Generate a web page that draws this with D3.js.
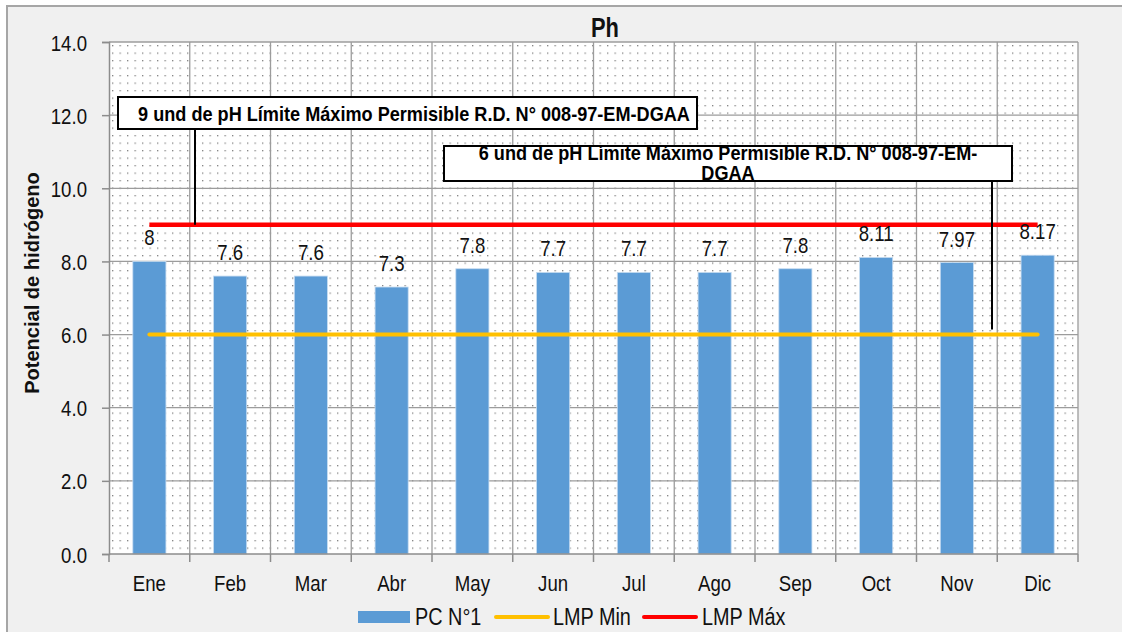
<!DOCTYPE html>
<html>
<head>
<meta charset="utf-8">
<script src="https://cdn.jsdelivr.net/npm/d3@7"></script>
<style>
  html, body { margin: 0; padding: 0; background: #ffffff; }
  svg { display: block; }
  text { font-family: "Liberation Sans", Arial, sans-serif; }
</style>
</head>
<body>
<svg id="chart" width="1122" height="632"></svg>
<script>
// Monthly pH readings at monitoring point PC N°1
const months = ["Ene", "Feb", "Mar", "Abr", "May", "Jun", "Jul", "Ago", "Sep", "Oct", "Nov", "Dic"];
const pcValues = [8, 7.6, 7.6, 7.3, 7.8, 7.7, 7.7, 7.7, 7.8, 8.11, 7.97, 8.17];
const lmpMin = [6, 6, 6, 6, 6, 6, 6, 6, 6, 6, 6, 6];
const lmpMax = [9, 9, 9, 9, 9, 9, 9, 9, 9, 9, 9, 9];
const yTicks = [0, 2, 4, 6, 8, 10, 12, 14];
const seriesNames = ["PC N°1", "LMP Min", "LMP Máx"];
const noteMax = "9 und de pH Límite Máximo Permisible R.D. N° 008-97-EM-DGAA";
const noteMinLines = ["6 und de pH Límite Máximo Permisible R.D. N° 008-97-EM-", "DGAA"];

const colors = { bar: "#5b9bd5", min: "#ffc000", max: "#ff0000", grid: "#9c9c9c", axis: "#8c8c8c", text: "#111" };
const NARROW = 0.81; // horizontal squeeze that gives the condensed look of the labels

const svg = d3.select("#chart");
const plot = { left: 109, right: 1078, top: 42, bottom: 554 };

// condensed text: regular glyphs squeezed horizontally around the anchor point
function ntext(parent, x, y, str, size, sx, bold) {
  return parent.append("text")
    .attr("transform", `translate(${x},${y}) scale(${sx},1)`)
    .attr("font-size", size)
    .attr("font-weight", bold ? "bold" : "normal")
    .attr("fill", colors.text)
    .text(str);
}
// squeeze a text so that it spans a given width
function fitWidth(t, width) {
  const w = t.node().getComputedTextLength();
  const tr = t.attr("transform").replace(/scale\([^)]*\)/, `scale(${width / w},1)`);
  t.attr("transform", tr);
  return width / w;
}

// chart area
svg.append("rect")
  .attr("x", 7).attr("y", 6).attr("width", 1130).attr("height", 640)
  .attr("fill", "#f0f0f0").attr("stroke", "#a6a6a6").attr("stroke-width", 2);

// dotted fill for the plot area
const defs = svg.append("defs");
const pat = defs.append("pattern")
  .attr("id", "dots").attr("patternUnits", "userSpaceOnUse")
  .attr("width", 7.5).attr("height", 7.5)
  .attr("x", plot.left + 3).attr("y", plot.top + 3);
pat.append("rect").attr("width", 7.5).attr("height", 7.5).attr("fill", "#ffffff");
pat.append("rect").attr("x", 0).attr("y", 0).attr("width", 1.3).attr("height", 1.3).attr("fill", "#838383");

svg.append("rect")
  .attr("x", plot.left).attr("y", plot.top)
  .attr("width", plot.right - plot.left).attr("height", plot.bottom - plot.top)
  .attr("fill", "url(#dots)");

const x = d3.scaleBand().domain(months).range([plot.left, plot.right]).padding(0);
const y = d3.scaleLinear().domain([0, 14]).range([plot.bottom, plot.top]);
const cx = m => x(m) + x.bandwidth() / 2;

// gridlines
const grid = svg.append("g").attr("stroke", colors.grid).attr("stroke-width", 1.3);
grid.selectAll("line.h").data(yTicks.filter(t => t > 0)).join("line")
  .attr("x1", plot.left).attr("x2", plot.right)
  .attr("y1", d => y(d)).attr("y2", d => y(d));
grid.selectAll("line.v").data(months.slice(1)).join("line")
  .attr("x1", d => x(d)).attr("x2", d => x(d))
  .attr("y1", plot.top).attr("y2", plot.bottom);
grid.append("line")
  .attr("x1", plot.right).attr("x2", plot.right)
  .attr("y1", plot.top).attr("y2", plot.bottom);

// bars
svg.append("g").selectAll("rect").data(months).join("rect")
  .attr("x", d => cx(d) - x.bandwidth() * 0.205)
  .attr("width", x.bandwidth() * 0.41)
  .attr("y", (d, i) => y(pcValues[i]))
  .attr("height", (d, i) => y(0) - y(pcValues[i]))
  .attr("fill", colors.bar)
  .attr("stroke", "#c6dcf1").attr("stroke-width", 0.8);

// limit lines
const line = d3.line().x((d, i) => cx(months[i])).y(d => y(d));
svg.append("path").datum(lmpMin).attr("d", line)
  .attr("fill", "none").attr("stroke", colors.min).attr("stroke-width", 4).attr("stroke-linecap", "round");
svg.append("path").datum(lmpMax).attr("d", line)
  .attr("fill", "none").attr("stroke", colors.max).attr("stroke-width", 4.5).attr("stroke-linecap", "butt");

// value labels
const valueLabels = svg.append("g").attr("text-anchor", "middle");
months.forEach((m, i) => ntext(valueLabels, cx(m), y(pcValues[i]) - 16, String(pcValues[i]), 23, NARROW));

// y axis
const yAxis = svg.append("g").attr("transform", `translate(${plot.left},0)`)
  .call(d3.axisLeft(y).tickValues(yTicks).tickFormat(d3.format(".1f")).tickSize(7).tickPadding(14));
yAxis.select(".domain").attr("stroke", colors.axis).attr("stroke-width", 1.5);
yAxis.selectAll(".tick line").attr("stroke", colors.axis).attr("stroke-width", 1.5);
yAxis.selectAll(".tick text").remove();
yAxis.selectAll(".tick").each(function (d) {
  ntext(d3.select(this), -22, 8, d3.format(".1f")(d), 23, NARROW).attr("text-anchor", "end");
});

// x axis with ticks on category boundaries
const xAxis = svg.append("g").attr("transform", `translate(0,${plot.bottom})`);
xAxis.append("line").attr("x1", plot.left).attr("x2", plot.right)
  .attr("stroke", colors.axis).attr("stroke-width", 1.5);
xAxis.selectAll("line.tk").data(months.map(m => x(m)).concat([plot.right])).join("line")
  .attr("x1", d => d).attr("x2", d => d).attr("y1", 0).attr("y2", 8)
  .attr("stroke", colors.axis).attr("stroke-width", 1.5);
const xLabels = xAxis.append("g").attr("text-anchor", "middle");
months.forEach(m => ntext(xLabels, cx(m), 37, m, 23, NARROW));

// title
ntext(svg.append("g").attr("text-anchor", "middle"), 605, 37, "Ph", 27, NARROW, true);

// y axis title
const yTitle = svg.append("g").attr("transform", "translate(39,283) rotate(-90)").attr("text-anchor", "middle");
fitWidth(ntext(yTitle, 0, 0, "Potencial de hidrógeno", 20, 1, true), 222);

// callout for the upper limit
const notes = svg.append("g");
notes.append("line").attr("x1", 195).attr("x2", 195).attr("y1", 128).attr("y2", y(9))
  .attr("stroke", "#000").attr("stroke-width", 2);
notes.append("rect").attr("x", 118).attr("y", 97).attr("width", 579).attr("height", 32)
  .attr("fill", "#fff").attr("stroke", "#000").attr("stroke-width", 2);
const noteMaxG = notes.append("g").attr("text-anchor", "middle");
const noteScale = fitWidth(ntext(noteMaxG, 414, 121, noteMax, 20, 1, true).attr("fill", "#000"), 552);

// callout for the lower limit
notes.append("line").attr("x1", 992).attr("x2", 992).attr("y1", 180).attr("y2", y(6) - 5)
  .attr("stroke", "#000").attr("stroke-width", 2);
notes.append("rect").attr("x", 444).attr("y", 146).attr("width", 568).attr("height", 35)
  .attr("fill", "#fff").attr("stroke", "#000").attr("stroke-width", 2);
const noteMinG = notes.append("g").attr("text-anchor", "middle");
noteMinLines.forEach((s, i) => ntext(noteMinG, 728, 160 + i * 20, s, 20, noteScale, true).attr("fill", "#000"));

// legend
const legend = svg.append("g");
legend.append("rect").attr("x", 358).attr("y", 611).attr("width", 52).attr("height", 12).attr("fill", colors.bar);
ntext(legend, 415, 625, seriesNames[0], 24.5, NARROW);
legend.append("line").attr("x1", 496).attr("x2", 548).attr("y1", 617).attr("y2", 617)
  .attr("stroke", colors.min).attr("stroke-width", 4).attr("stroke-linecap", "round");
ntext(legend, 553, 625, seriesNames[1], 24.5, NARROW);
legend.append("line").attr("x1", 644).attr("x2", 696).attr("y1", 617).attr("y2", 617)
  .attr("stroke", colors.max).attr("stroke-width", 4).attr("stroke-linecap", "round");
ntext(legend, 702, 625, seriesNames[2], 24.5, NARROW);
</script>
</body>
</html>
